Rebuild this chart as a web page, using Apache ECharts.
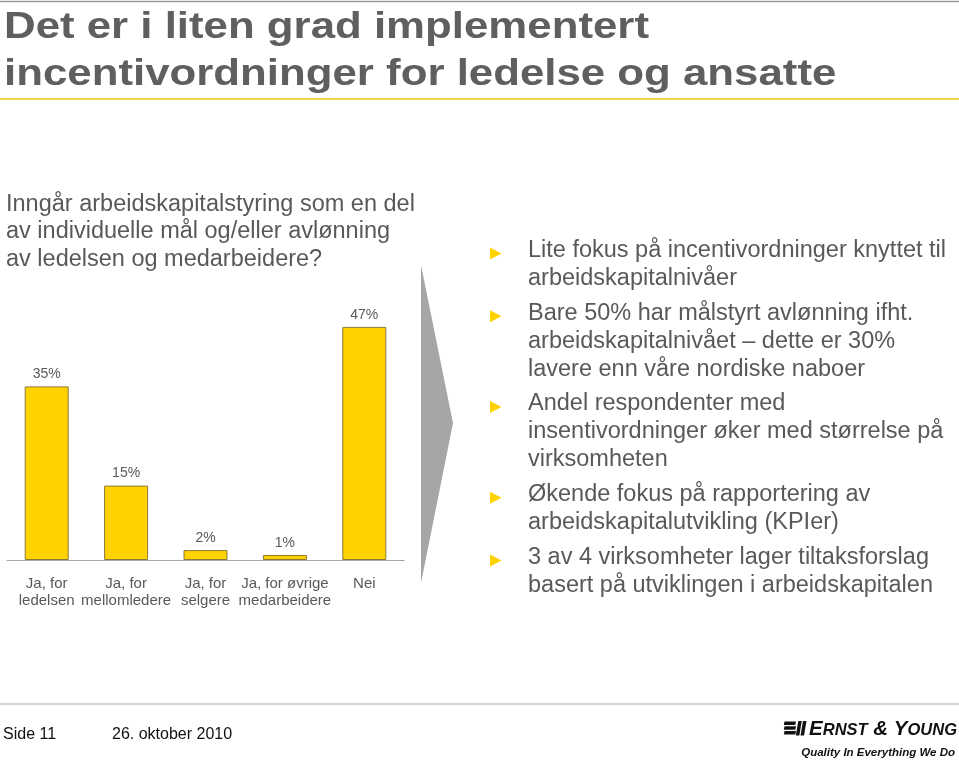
<!DOCTYPE html>
<html><head><meta charset="utf-8">
<script src="https://cdn.jsdelivr.net/npm/echarts@6/dist/echarts.min.js"></script>
<style>html,body{margin:0;padding:0;background:#fff}#c{width:959px;height:763px}</style>
</head><body><div id="c"></div>
<script>
// ---- data ----
const titleLines = ['Det er i liten grad implementert', 'incentivordninger for ledelse og ansatte'];
const questionLines = ['Inngår arbeidskapitalstyring som en del', 'av individuelle mål og/eller avlønning', 'av ledelsen og medarbeidere?'];
const categories = ['Ja, for\nledelsen', 'Ja, for\nmellomledere', 'Ja, for\nselgere', 'Ja, for øvrige\nmedarbeidere', 'Nei'];
const values = [35, 15, 2, 1, 47];
const bullets = [
  ['Lite fokus på incentivordninger knyttet til', 'arbeidskapitalnivåer'],
  ['Bare 50% har målstyrt avlønning ifht.', 'arbeidskapitalnivået – dette er 30%', 'lavere enn våre nordiske naboer'],
  ['Andel respondenter med', 'insentivordninger øker med størrelse på', 'virksomheten'],
  ['Økende fokus på rapportering av', 'arbeidskapitalutvikling (KPIer)'],
  ['3 av 4 virksomheter lager tiltaksforslag', 'basert på utviklingen i arbeidskapitalen']
];
const footerPage = 'Side 11';
const footerDate = '26. oktober 2010';
const logoTagline = 'Quality In Everything We Do';

// ---- build ----
const TXT = '#595959';
const YEL = '#FFD200';
const g = [];
// top rule and yellow rule
g.push({type:'line', shape:{x1:0,y1:1.5,x2:959,y2:1.5}, style:{stroke:'#9a9a9a', lineWidth:1.5}});
g.push({type:'line', shape:{x1:0,y1:99,x2:959,y2:99}, style:{stroke:'#F6D44A', lineWidth:2}});
// title
titleLines.forEach((t,i)=>{
  g.push({type:'text', x:4, y:[28,75][i], scaleX:1.2,
    style:{text:t, x:0, y:0, fontFamily:'Liberation Sans', fontWeight:'bold', fontSize:36.5, fill:'#5f5f5f', textVerticalAlign:'middle'}});
});
// question
questionLines.forEach((t,i)=>{
  const base = 211.7 + i*27.8;
  g.push({type:'text', style:{text:t, x:6, y:base - 7.5, fontFamily:'Liberation Sans', fontSize:23.5, fill:TXT, textVerticalAlign:'middle'}});
});
// chevron
g.push({type:'polygon', shape:{points:[[421,265],[453,423],[421,583]]}, style:{fill:'#A6A6A6'}});
// bullets
let li = 0;
bullets.forEach((para,pi)=>{
  para.forEach((t,k)=>{
    const base = 256.5 + li*28 + pi*6.75;
    if (k===0) {
      g.push({type:'polygon', shape:{points:[[490,base-9],[501.5,base-3],[490,base+3]]}, style:{fill:YEL}});
    }
    g.push({type:'text', style:{text:t, x:528, y:base - 6, fontFamily:'Liberation Sans', fontSize:23.5, fill:TXT, textVerticalAlign:'middle'}});
    li++;
  });
});
// footer
g.push({type:'line', shape:{x1:0,y1:704,x2:959,y2:704}, style:{stroke:'#c4c4c4', lineWidth:1.5}});
g.push({type:'text', style:{text:footerPage, x:3, y:734.5, fontFamily:'Liberation Sans', fontSize:16, fill:'#111', textVerticalAlign:'middle'}});
g.push({type:'text', style:{text:footerDate, x:112, y:734.5, fontFamily:'Liberation Sans', fontSize:16, fill:'#111', textVerticalAlign:'middle'}});
// logo mark
[0,1,2].forEach(i=>{
  const y = 721.5 + i*4.8;
  g.push({type:'polygon', shape:{points:[[784.5,y],[796,y],[795.3,y+3.4],[783.8,y+3.4]]}, style:{fill:'#111'}});
});
g.push({type:'polygon', shape:{points:[[798.3,721],[801.8,721],[799.3,735.5],[795.8,735.5]]}, style:{fill:'#111'}});
g.push({type:'polygon', shape:{points:[[803,721],[806.5,721],[804,735.5],[800.5,735.5]]}, style:{fill:'#111'}});
g.push({type:'text', style:{
  text:'{b|E}{s|RNST}{b| & }{b|Y}{s|OUNG}', x:957, y:729, textAlign:'right', textVerticalAlign:'middle',
  rich:{
    b:{fontFamily:'Liberation Sans', fontStyle:'italic', fontWeight:'bold', fontSize:20.5, fill:'#111', verticalAlign:'bottom'},
    s:{fontFamily:'Liberation Sans', fontStyle:'italic', fontWeight:'bold', fontSize:16.5, fill:'#111', verticalAlign:'bottom'}
  }}});
g.push({type:'text', style:{text:logoTagline, x:955, y:753, textAlign:'right', textVerticalAlign:'middle', fontFamily:'Liberation Sans', fontStyle:'italic', fontWeight:'bold', fontSize:11.5, fill:'#111'}});

const chart = echarts.init(document.getElementById('c'), null, {renderer:'canvas'});
chart.setOption({
  animation:false,
  backgroundColor:'#fff',
  grid:{left:7, right:555, top:312, bottom:203, containLabel:false},
  xAxis:{type:'category', data:categories,
    axisLine:{lineStyle:{color:'#A6A6A6', width:1.2}}, axisTick:{show:false},
    axisLabel:{interval:0, margin:15, fontFamily:'Liberation Sans', fontSize:15, lineHeight:17, color:TXT}},
  yAxis:{type:'value', min:0, max:50, show:false, splitLine:{show:false}},
  series:[{type:'bar', data:values, barWidth:44,
    itemStyle:{color:YEL, borderColor:'#8a7a3a', borderWidth:1},
    label:{show:true, position:'top', distance:5, formatter:'{c}%', fontFamily:'Liberation Sans', fontSize:14, color:TXT}}],
  graphic:g
});
</script></body></html>
